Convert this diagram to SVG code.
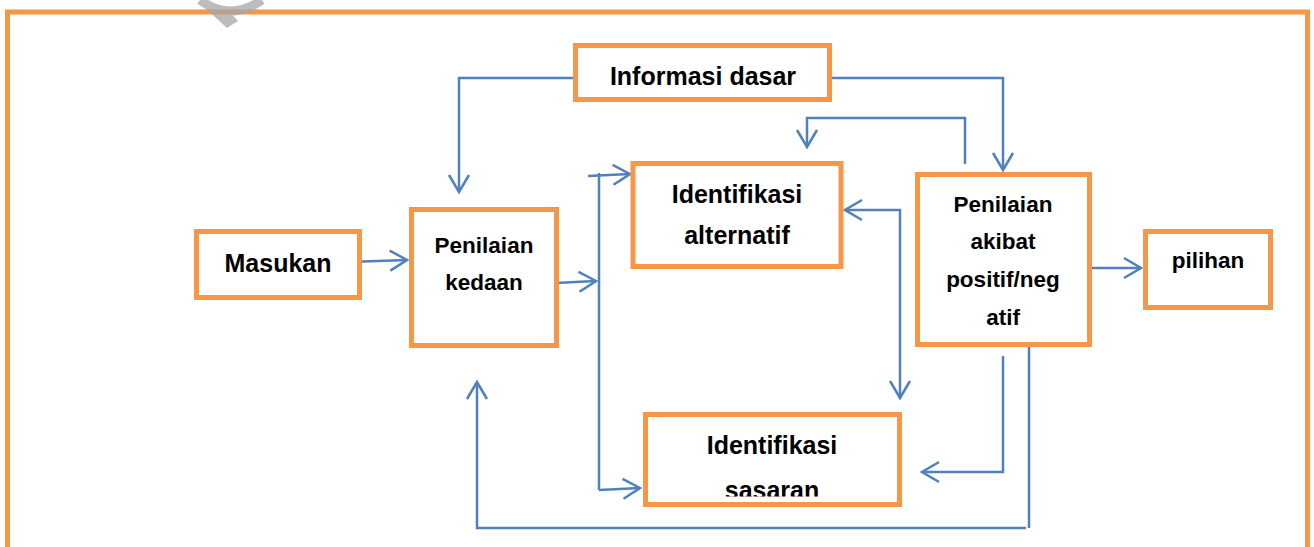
<svg xmlns="http://www.w3.org/2000/svg" width="1314" height="547" viewBox="0 0 1314 547">
<style>
.box{fill:#ffffff;stroke:#F79646;stroke-width:5}
.lbl{font-family:"Liberation Sans",Arial,sans-serif;font-weight:bold;fill:#000000;text-anchor:middle}
.big{font-size:25px}
.sm{font-size:22.5px}
.con{fill:none;stroke:#4F81BD;stroke-width:2.5}
</style>
<defs>
<marker id="arr" markerUnits="userSpaceOnUse" viewBox="-20 -12 24 24" markerWidth="24" markerHeight="24" refX="0" refY="0" orient="auto-start-reverse">
<path d="M -17 -10 L 0 0 L -17 10" fill="none" stroke="#4F81BD" stroke-width="2.5"/>
</marker>
<clipPath id="clipSas"><rect x="648" y="417" width="249" height="79.5"/></clipPath>
</defs>
<rect x="7.5" y="12" width="1300" height="560" fill="#ffffff" stroke="#F79646" stroke-width="5"/>
<g id="watermark" opacity="0.75">
<path d="M 200 0 Q 230 22 262 0" fill="none" stroke="#A6A6A6" stroke-width="9"/>
<path d="M 205 8 L 227 28 L 238 21 L 229 11 Z" fill="#A6A6A6"/>
</g>
<g id="connectors">
<path class="con" d="M 348 262 L 407 260" marker-end="url(#arr)"/>
<path class="con" d="M 555 283 L 596 281" marker-end="url(#arr)"/>
<path class="con" d="M 599 173 V 490"/>
<path class="con" d="M 588 176 L 630 174" marker-end="url(#arr)"/>
<path class="con" d="M 599 490 L 640 488" marker-end="url(#arr)"/>
<path class="con" d="M 575 78 H 459 V 192" marker-end="url(#arr)"/>
<path class="con" d="M 832 78 H 1003 V 170" marker-end="url(#arr)"/>
<path class="con" d="M 965 164 V 118 H 807 V 147" marker-end="url(#arr)"/>
<path class="con" d="M 845 210 H 900 V 398" marker-start="url(#arr)" marker-end="url(#arr)"/>
<path class="con" d="M 1088 268 H 1141" marker-end="url(#arr)"/>
<path class="con" d="M 1003 356 V 472 H 922" marker-end="url(#arr)"/>
<path class="con" d="M 1029 345 V 528"/>
<path class="con" d="M 1026 528 H 477 V 382" marker-end="url(#arr)"/>
</g>
<g id="informasi-dasar">
<rect class="box" x="575.5" y="45.5" width="254" height="54"/>
<text class="lbl big" x="703" y="85">Informasi dasar</text>
</g>
<g id="masukan">
<rect class="box" x="196.5" y="231.5" width="163" height="66"/>
<text class="lbl big" x="278" y="272">Masukan</text>
</g>
<g id="penilaian-kedaan">
<rect class="box" x="411.5" y="209.5" width="145" height="136"/>
<text class="lbl sm" x="484" y="253">Penilaian</text>
<text class="lbl sm" x="484" y="290">kedaan</text>
</g>
<g id="identifikasi-alternatif">
<rect class="box" x="633" y="163.5" width="208" height="103"/>
<text class="lbl big" x="737" y="203">Identifikasi</text>
<text class="lbl big" x="737" y="244">alternatif</text>
</g>
<g id="penilaian-akibat">
<rect class="box" x="917.5" y="174.5" width="172" height="170"/>
<text class="lbl sm" x="1003" y="212">Penilaian</text>
<text class="lbl sm" x="1003" y="249">akibat</text>
<text class="lbl sm" x="1003" y="287">positif/neg</text>
<text class="lbl sm" x="1003" y="325">atif</text>
</g>
<g id="pilihan">
<rect class="box" x="1145.5" y="231.5" width="125" height="76"/>
<text class="lbl sm" x="1208" y="268">pilihan</text>
</g>
<g id="identifikasi-sasaran">
<rect class="box" x="645.5" y="414.5" width="254" height="90"/>
<text class="lbl big" x="772" y="454">Identifikasi</text>
<text class="lbl big" x="772" y="499" clip-path="url(#clipSas)">sasaran</text>
</g>
</svg>
